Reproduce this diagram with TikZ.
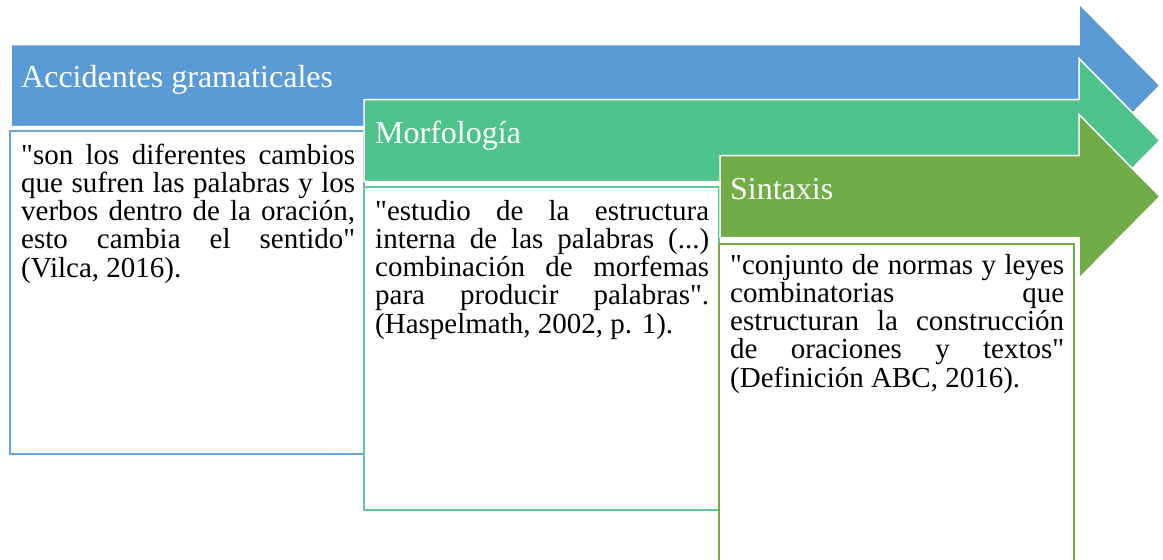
\documentclass[tikz,border=0pt]{standalone}
\usepackage{fontspec}
\setmainfont{Liberation Serif}[Ligatures=TeXOff]
\usepackage{tikz}
\usetikzlibrary{positioning}
\tikzset{every node/.append style={align=left}}
\definecolor{accblue}{RGB}{91, 155, 213}
\definecolor{morfgreen}{RGB}{78, 196, 140}
\definecolor{sintgreen}{RGB}{112, 173, 71}
\definecolor{accline}{RGB}{104, 163, 219}
\definecolor{morfline}{RGB}{92, 201, 150}
\hyphenpenalty=10000
\tolerance=10000
\hbadness=10000

% big arrow: left x, centre y, colour
\newcommand{\gramarrow}[3]{%
  \filldraw[arrowbody, fill=#3] (#1,#2-41) -- (1079,#2-41) -- (1079,#2-82) -- (1160,#2)
    -- (1079,#2+82) -- (1079,#2+41) -- (#1,#2+41) -- cycle;}
\newcommand{\topstrut}{\rule{0pt}{22pt}}

\begin{document}
\begin{tikzpicture}[
    x=1pt, y=-1pt,
    arrowbody/.style={draw=white, line width=1.5pt},
    defbox/.style={draw=#1, fill=white, line width=2pt},
    title/.style={anchor=base west, inner sep=0pt, text=white, font=\fontsize{32}{38}\selectfont},
    deftext/.style={anchor=north west, inner sep=0pt, text width=334pt, align=justify, font=\fontsize{29}{28.2}\selectfont}
]
    \useasboundingbox (0,0) rectangle (1163,560);

    % Accidentes gramaticales
    \gramarrow{11}{85.5}{accblue}
    \draw[defbox=accline] (10,131) rectangle (364,454);
    \node[title] (acc) at (21,87) {Accidentes gramaticales};
    \node[deftext] (accdef) at (21,142) {\topstrut"son los diferentes cambios\linebreak que sufren las palabras y los\linebreak verbos dentro de la oración,\linebreak esto cambia el sentido"\linebreak (Vilca, 2016).};

    % Morfologia
    \gramarrow{364}{140.5}{morfgreen}
    \draw[defbox=morfline] (364,187) rectangle (719,510);
    \node[title] (morf) at (375,143) {Morfología};
    \node[deftext] (morfdef) at (375,198) {\topstrut"estudio de la estructura\linebreak interna de las palabras (...)\linebreak combinación de morfemas\linebreak para producir palabras".\linebreak (Haspelmath, 2002, p. 1).};

    % Sintaxis
    \gramarrow{720}{196.5}{sintgreen}
    \draw[defbox=sintgreen] (719,244) rectangle (1074,575);
    \node[title] (sint) at (730,199) {Sintaxis};
    \node[deftext] (sintdef) at (730,252) {\topstrut"conjunto de normas y leyes\linebreak combinatorias que\linebreak estructuran la construcción\linebreak de oraciones y textos"\linebreak (Definición ABC, 2016).};
\end{tikzpicture}
\end{document}
